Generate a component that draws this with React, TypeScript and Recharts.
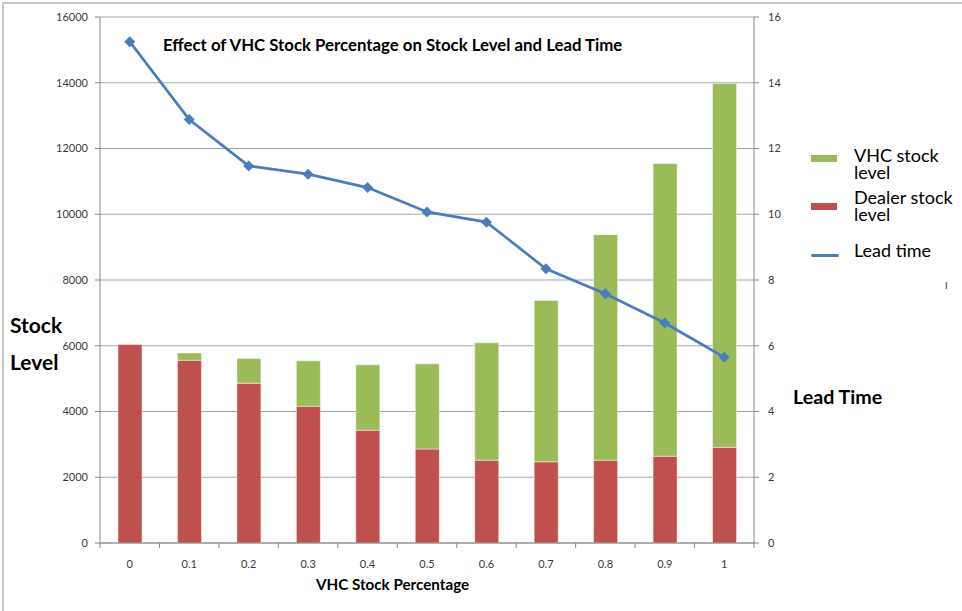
import React from 'react';
import { ComposedChart, Bar, Line, XAxis, YAxis, CartesianGrid, Legend } from 'recharts';

const categories = ['0', '0.1', '0.2', '0.3', '0.4', '0.5', '0.6', '0.7', '0.8', '0.9', '1'];
const dealerStock = [6040, 5560, 4860, 4160, 3430, 2860, 2520, 2470, 2520, 2640, 2910];
const vhcStock = [0, 220, 750, 1380, 1990, 2590, 3570, 4910, 6860, 8900, 11070];
const leadTime = [15.25, 12.88, 11.47, 11.22, 10.81, 10.07, 9.76, 8.34, 7.58, 6.69, 5.65];
const leftTicks = [0, 2000, 4000, 6000, 8000, 10000, 12000, 14000, 16000];
const rightTicks = [0, 2, 4, 6, 8, 10, 12, 14, 16];

const data = categories.map((c, i) => ({
  cat: c,
  dealer: dealerStock[i],
  vhc: vhcStock[i],
  lead: leadTime[i],
}));

const FONT = 'Lato, "Open Sans", sans-serif';
const AXIS = '#868686';
const PLOT_W = 654;
const BAND = PLOT_W / categories.length;

const XTick = (props: any) => {
  const { x, y, payload, index } = props;
  return (
    <g>
      <line x1={x - BAND / 2} y1={y} x2={x - BAND / 2} y2={y + 5} stroke={AXIS} />
      {index === categories.length - 1 && (
        <line x1={x + BAND / 2} y1={y} x2={x + BAND / 2} y2={y + 5} stroke={AXIS} />
      )}
      <text x={x} y={y + 25} textAnchor="middle" fontSize={11} fill="#3a3a3a" fontFamily={FONT}>
        {payload.value}
      </text>
    </g>
  );
};

const Diamond = (props: any) => {
  const { cx, cy } = props;
  if (cx == null || cy == null) return null;
  const r = 5.5;
  return (
    <path
      d={`M${cx},${cy - r} L${cx + r},${cy} L${cx},${cy + r} L${cx - r},${cy} Z`}
      fill="#4a7ebb"
    />
  );
};

const legendOrder = ['VHC stock level', 'Dealer stock level', 'Lead time'];
const legendTextTop = [15, 57, 110];
const legendSymTop = [18, 66.5, 115.5];

const renderLegend = (props: any) => {
  const payload = props.payload || [];
  const items = legendOrder.map((n) => payload.find((p: any) => p.value === n)).filter(Boolean);
  return (
    <div style={{ position: 'relative', width: 151, height: 130, fontFamily: FONT, fontSize: 18, color: '#000' }}>
      {items.map((p: any, i: number) => {
        const words = String(p.value).split(' ');
        const lines = words.length > 2 ? [words.slice(0, -1).join(' '), words[words.length - 1]] : [p.value];
        const isLine = p.type === 'line';
        return (
          <React.Fragment key={p.value}>
            <div
              style={{
                position: 'absolute',
                left: 0,
                top: legendSymTop[i] - (isLine ? 1.5 : 3.5),
                width: isLine ? 28 : 26,
                height: isLine ? 3 : 7,
                borderRadius: isLine ? 2 : 0,
                background: p.color,
              }}
            />
            <div
              style={{
                position: 'absolute',
                left: 43,
                top: legendTextTop[i] - 8.5,
                lineHeight: '17px',
                whiteSpace: 'nowrap',
              }}
            >
              {lines.map((ln: string, j: number) => (
                <React.Fragment key={j}>
                  {j > 0 && <br />}
                  {ln}
                </React.Fragment>
              ))}
            </div>
          </React.Fragment>
        );
      })}
    </div>
  );
};

export default function App() {
  return (
    <div style={{ position: 'absolute', left: 0, top: 0, width: 962, height: 611, overflow: 'hidden', background: '#fff', fontFamily: FONT }}>
      <div style={{ position: 'absolute', left: 2, top: 2, width: 1200, height: 1200, borderLeft: '2px solid #c6c6c6', borderTop: '2px solid #c6c6c6' }} />
      <ComposedChart
        width={962}
        height={611}
        data={data}
        margin={{ top: 17, right: 168, bottom: 38, left: 40 }}
        barCategoryGap={0}
      >
        <CartesianGrid vertical={false} stroke="#a6a6a6" yAxisId="left" />
        <XAxis
          dataKey="cat"
          xAxisId={0}
          height={30}
          tickSize={0}
          tickMargin={0}
          tick={<XTick />}
          interval={0}
          axisLine={{ stroke: AXIS }}
        />
        <YAxis
          yAxisId="left"
          width={60}
          domain={[0, 16000]}
          ticks={leftTicks}
          interval={0}
          tickSize={5}
          tickMargin={7}
          axisLine={{ stroke: AXIS }}
          tickLine={{ stroke: AXIS }}
          tick={{ fontSize: 11, fill: '#3a3a3a', fontFamily: FONT }}
        />
        <YAxis
          yAxisId="right"
          orientation="right"
          width={40}
          domain={[0, 16]}
          ticks={rightTicks}
          interval={0}
          tickSize={5}
          tickMargin={9}
          axisLine={{ stroke: AXIS }}
          tickLine={{ stroke: AXIS }}
          tick={{ fontSize: 11, fill: '#3a3a3a', fontFamily: FONT, textAnchor: 'start' }}
        />
        <Bar
          yAxisId="left"
          dataKey="dealer"
          name="Dealer stock level"
          stackId="s"
          fill="#c0504d"
          stroke="rgba(255,255,255,0.45)"
          barSize={24}
          isAnimationActive={false}
          legendType="rect"
        />
        <Bar
          yAxisId="left"
          dataKey="vhc"
          name="VHC stock level"
          stackId="s"
          fill="#9bbb59"
          stroke="rgba(255,255,255,0.45)"
          barSize={24}
          isAnimationActive={false}
          legendType="rect"
        />
        <Line
          yAxisId="right"
          dataKey="lead"
          name="Lead time"
          stroke="#4a7ebb"
          strokeWidth={2.7}
          dot={<Diamond />}
          activeDot={false}
          isAnimationActive={false}
          legendType="line"
        />
        <Legend
          layout="vertical"
          align="center"
          verticalAlign="middle"
          content={renderLegend}
          wrapperStyle={{ left: 811, top: 140, width: 151, height: 130 }}
        />
      </ComposedChart>
      <div style={{ position: 'absolute', left: 163, top: 34, fontSize: 16.8, fontWeight: 700, lineHeight: '22px', whiteSpace: 'nowrap', color: '#000' }}>
        Effect of VHC Stock Percentage on Stock Level and Lead Time
      </div>
      <div style={{ position: 'absolute', left: 10, top: 306, fontSize: 21, fontWeight: 700, lineHeight: '37px', color: '#000' }}>
        Stock
        <br />
        Level
      </div>
      <div style={{ position: 'absolute', left: 793, top: 384, fontSize: 19.7, fontWeight: 700, lineHeight: '25px', whiteSpace: 'nowrap', color: '#000' }}>
        Lead Time
      </div>
      <div style={{ position: 'absolute', left: 316, top: 574, fontSize: 15.2, fontWeight: 700, lineHeight: '20px', whiteSpace: 'nowrap', color: '#000' }}>
        VHC Stock Percentage
      </div>
      <div style={{ position: 'absolute', left: 945, top: 281, fontSize: 9, lineHeight: '10px', color: '#222' }}>I</div>
    </div>
  );
}
